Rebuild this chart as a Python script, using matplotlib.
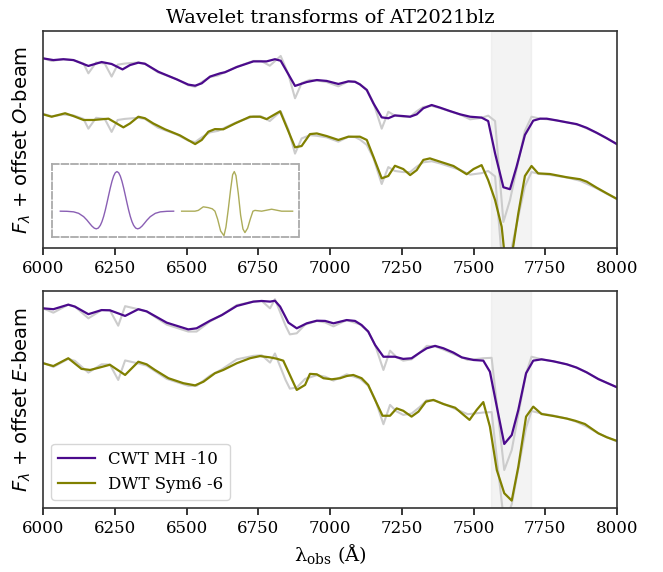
import matplotlib
matplotlib.use('Agg')
import matplotlib.pyplot as plt
import numpy as np

plt.rcParams['font.family'] = 'DejaVu Serif'
plt.rcParams['mathtext.fontset'] = 'dejavuserif'

PURPLE = '#4b0a8c'
OLIVE = '#808000'
RAW = '#cccccc'

# ---- O-beam (top panel), flux + offset in arbitrary units ----
wl_raw_O = [6000, 6030, 6071, 6106, 6141, 6158, 6185, 6215, 6239, 6260,
            6285, 6332, 6355, 6400, 6466, 6506, 6530, 6553, 6582, 6610,
            6634, 6675, 6733, 6760, 6790, 6828, 6855, 6878, 6901, 6930,
            6954, 6988, 7029, 7064, 7087, 7104, 7128, 7151, 7180, 7203,
            7226, 7255, 7279, 7302, 7325, 7354, 7383, 7418, 7453, 7488,
            7528, 7551, 7575, 7604, 7627, 7656, 7679, 7702, 7732, 7766,
            7825, 7871, 7929, 7964, 8000]
f_raw_O = [8.74, 8.62, 8.70, 8.66, 8.50, 8.05, 8.55, 8.50, 7.90, 8.45,
           8.50, 8.55, 8.50, 8.10, 7.78, 7.50, 7.43, 7.65, 7.88, 7.95,
           8.10, 8.35, 8.62, 8.62, 8.40, 8.85, 8.00, 6.90, 7.60, 7.75,
           7.72, 7.65, 7.45, 7.68, 7.66, 7.55, 7.30, 6.70, 5.50, 6.28,
           6.10, 6.05, 6.05, 6.30, 6.50, 6.55, 6.45, 6.30, 6.15, 5.93,
           6.00, 6.10, 5.85, 1.20, 2.21, 4.00, 5.40, 6.05, 5.96, 5.92,
           5.80, 5.65, 5.30, 5.05, 4.80]
raw_offset_O = 2.55

wl_cwt_O = [6000, 6036, 6071, 6106, 6158, 6204, 6239, 6277, 6303, 6332,
            6355, 6402, 6466, 6506, 6530, 6553, 6582, 6617, 6634, 6675,
            6733, 6779, 6808, 6828, 6878, 6919, 6954, 6988, 7029, 7064,
            7087, 7104, 7128, 7151, 7180, 7203, 7226, 7255, 7279, 7302,
            7325, 7354, 7383, 7418, 7453, 7488, 7528, 7551, 7575, 7604,
            7627, 7650, 7679, 7708, 7732, 7755, 7790, 7825, 7859, 7894,
            7929, 7964, 8000]
f_cwt_O = [8.74, 8.66, 8.70, 8.66, 8.39, 8.57, 8.48, 8.23, 8.43, 8.54,
           8.49, 8.12, 7.77, 7.53, 7.48, 7.59, 7.90, 8.05, 8.10, 8.34,
           8.60, 8.60, 8.70, 8.63, 7.47, 7.65, 7.74, 7.70, 7.56, 7.68,
           7.66, 7.54, 7.28, 6.67, 6.02, 5.98, 6.11, 6.08, 6.05, 6.16,
           6.44, 6.59, 6.47, 6.31, 6.16, 6.05, 6.01, 5.85, 4.36, 2.80,
           2.71, 3.75, 5.21, 5.87, 5.96, 5.96, 5.88, 5.79, 5.71, 5.54,
           5.31, 5.06, 4.78]

wl_dwt_O = [6000, 6030, 6077, 6106, 6141, 6176, 6228, 6280, 6303, 6332,
            6355, 6384, 6425, 6477, 6530, 6553, 6576, 6599, 6628, 6669,
            6721, 6756, 6779, 6826, 6878, 6901, 6930, 6954, 6988, 7029,
            7064, 7104, 7128, 7151, 7180, 7203, 7226, 7255, 7279, 7302,
            7325, 7348, 7383, 7430, 7476, 7500, 7528, 7551, 7575, 7598,
            7612, 7628, 7656, 7679, 7702, 7725, 7766, 7825, 7871, 7894,
            7929, 7964, 8000]
f_dwt_O = [6.16, 6.05, 6.21, 6.08, 5.90, 5.90, 5.96, 5.56, 5.74, 6.05,
           5.98, 5.74, 5.47, 5.19, 4.79, 4.98, 5.36, 5.48, 5.47, 5.74,
           6.05, 6.05, 5.94, 6.30, 4.64, 4.70, 5.25, 5.28, 5.16, 4.98,
           5.13, 5.13, 4.98, 4.21, 3.21, 3.32, 3.79, 3.64, 3.36, 3.59,
           4.06, 4.13, 3.98, 3.78, 3.40, 3.64, 3.82, 3.13, 2.21, 0.98,
           -0.80, -0.80, 1.60, 3.32, 3.78, 3.44, 3.41, 3.26, 3.17, 3.06,
           2.78, 2.52, 2.26]

# ---- E-beam (bottom panel) ----
wl_raw_E = [6000, 6036, 6088, 6111, 6158, 6204, 6233, 6262, 6286, 6332,
            6361, 6431, 6506, 6535, 6582, 6623, 6675, 6733, 6762, 6791,
            6808, 6845, 6860, 6884, 6913, 6954, 6983, 7012, 7058, 7104,
            7133, 7157, 7186, 7209, 7232, 7255, 7284, 7313, 7337, 7366,
            7395, 7430, 7480, 7534, 7563, 7607, 7633, 7656, 7683, 7702,
            7737, 7778, 7825, 7859, 7894, 7935, 7964, 8000]
f_raw_E = [9.20, 9.00, 9.37, 9.28, 8.74, 9.12, 9.11, 8.40, 9.30, 9.16,
           9.06, 8.45, 8.13, 8.13, 8.60, 8.89, 9.35, 9.51, 9.54, 9.20,
           9.62, 8.40, 8.00, 8.05, 8.45, 8.62, 8.55, 8.37, 8.66, 8.46,
           8.13, 7.51, 6.36, 7.25, 6.95, 6.79, 6.85, 7.16, 7.47, 7.45,
           7.30, 7.10, 6.82, 6.90, 6.92, 1.75, 2.67, 4.30, 6.20, 6.97,
           6.85, 6.76, 6.62, 6.47, 6.25, 5.94, 5.77, 5.56]
raw_offset_E = 2.5

wl_cwt_E = [6000, 6036, 6088, 6111, 6158, 6204, 6233, 6286, 6332, 6361,
            6431, 6506, 6535, 6582, 6623, 6675, 6733, 6762, 6791, 6808,
            6826, 6855, 6884, 6919, 6954, 6983, 7012, 7058, 7087, 7110,
            7133, 7157, 7186, 7226, 7255, 7284, 7313, 7337, 7366, 7395,
            7430, 7459, 7500, 7534, 7557, 7581, 7607, 7633, 7656, 7683,
            7708, 7737, 7778, 7825, 7859, 7894, 7935, 7964, 8000]
f_cwt_E = [9.20, 9.16, 9.37, 9.28, 8.93, 9.12, 9.11, 8.85, 9.16, 9.06,
           8.54, 8.23, 8.28, 8.63, 8.89, 9.31, 9.51, 9.54, 9.51, 9.55,
           9.28, 8.54, 8.28, 8.51, 8.63, 8.62, 8.51, 8.66, 8.62, 8.43,
           8.13, 7.51, 6.97, 6.97, 6.87, 6.90, 7.16, 7.36, 7.47, 7.36,
           7.16, 6.94, 6.82, 6.79, 6.28, 4.67, 2.95, 3.36, 4.52, 6.21,
           6.79, 6.85, 6.76, 6.62, 6.47, 6.25, 5.94, 5.77, 5.56]

wl_dwt_E = [6000, 6036, 6088, 6134, 6164, 6199, 6233, 6286, 6332, 6361,
            6390, 6437, 6489, 6530, 6559, 6599, 6628, 6675, 6721, 6756,
            6791, 6814, 6837, 6884, 6913, 6930, 6954, 6977, 7006, 7035,
            7058, 7081, 7110, 7133, 7157, 7183, 7209, 7232, 7255, 7284,
            7308, 7334, 7360, 7395, 7436, 7459, 7486, 7511, 7534, 7557,
            7581, 7607, 7633, 7656, 7683, 7708, 7737, 7778, 7825, 7854,
            7888, 7935, 7964, 8000]
f_dwt_E = [6.67, 6.54, 6.90, 6.41, 6.36, 6.48, 6.60, 6.13, 6.74, 6.62,
           6.36, 5.98, 5.75, 5.65, 5.82, 6.21, 6.36, 6.67, 6.90, 7.00,
           6.94, 6.88, 6.79, 5.44, 5.67, 6.18, 6.16, 5.98, 5.93, 5.98,
           6.08, 6.13, 5.98, 5.67, 4.98, 4.25, 4.25, 4.59, 4.48, 4.21,
           4.44, 4.90, 4.98, 4.79, 4.62, 4.36, 4.06, 4.52, 4.88, 3.75,
           1.75, 0.68, 0.34, 1.90, 4.21, 4.67, 4.33, 4.24, 4.12, 4.02,
           3.87, 3.44, 3.26, 3.09]

# telluric band
band = (7560, 7700)

# ---- wavelet shapes shown in the inset ----
mexh_x = [-170, -150, -130, -115, -100, -90, -82, -75, -68, -62, -56, -50,
          -45, -40, -35, -30, -25, -20, -15, -10, -5, 0,
          5, 10, 15, 20, 25, 30, 35, 40, 45, 50, 56, 62, 68, 75, 82, 90,
          100, 115, 130, 150, 170]
mexh_y = [0.0, -0.003, -0.017, -0.054, -0.138, -0.226, -0.309, -0.378,
          -0.429, -0.446, -0.426, -0.358, -0.263, -0.133, 0.027, 0.210,
          0.401, 0.588, 0.755, 0.887, 0.971, 1.0,
          0.971, 0.887, 0.755, 0.588, 0.401, 0.210, 0.027, -0.133, -0.263,
          -0.358, -0.426, -0.446, -0.429, -0.378, -0.309, -0.226, -0.138,
          -0.054, -0.017, -0.003, 0.0]
sym6_x = [20, 60, 70, 85, 100, 112, 120, 128, 137, 147, 153, 160, 167,
          173, 178, 183, 190, 197, 204, 210, 218, 226, 234, 240, 260, 290,
          320, 353]
sym6_y = [0.0, 0.0, 0.02, 0.11, 0.09, 0.06, 0.0, -0.2, -0.5, -0.62, -0.4,
          0.05, 0.55, 0.92, 1.0, 0.9, 0.45, -0.1, -0.45, -0.54, -0.43, -0.2,
          0.0, 0.02, 0.0, 0.05, 0.0, 0.0]

fig = plt.figure(figsize=(6.63, 5.72), dpi=100)
ax1 = fig.add_axes([0.0649, 0.5664, 0.8658, 0.3794])
ax2 = fig.add_axes([0.0649, 0.1119, 0.8658, 0.3794])


def draw_panel(ax, wl_raw, f_raw, raw_off, wl_c, f_c, wl_d, f_d, beam):
    ax.axvspan(band[0], band[1], color='#d9d9d9', alpha=0.3, lw=1, zorder=0)
    ax.plot(wl_raw, f_raw, color=RAW, lw=1.5, zorder=1)
    ax.plot(wl_raw, np.array(f_raw) - raw_off, color=RAW, lw=1.5, zorder=1)
    ax.plot(wl_c, f_c, color=PURPLE, lw=1.6, label='CWT MH -10', zorder=2)
    ax.plot(wl_d, f_d, color=OLIVE, lw=1.6, label='DWT Sym6 -6', zorder=2)
    ax.set_xlim(6000, 8000)
    ax.set_ylim(0, 10)
    ax.set_yticks([])
    ax.set_xticks([6000, 6250, 6500, 6750, 7000, 7250, 7500, 7750, 8000])
    ax.set_ylabel(r'$F_\lambda$ + offset $' + beam + '$-beam',
                  family='DejaVu Sans', math_fontfamily='dejavusans',
                  fontsize=14, labelpad=7)
    ax.tick_params(labelsize=12, length=5, width=1.1)
    for s in ax.spines.values():
        s.set_linewidth(1.2)
        s.set_color('#333333')


draw_panel(ax1, wl_raw_O, f_raw_O, raw_offset_O, wl_cwt_O, f_cwt_O,
           wl_dwt_O, f_dwt_O, 'O')
draw_panel(ax2, wl_raw_E, f_raw_E, raw_offset_E, wl_cwt_E, f_cwt_E,
           wl_dwt_E, f_dwt_E, 'E')

ax1.set_title('Wavelet transforms of AT2021blz', fontsize=14)
ax2.set_xlabel(r'λ$_{\rm obs}$ (Å)', fontsize=14)
ax2.legend(loc='lower left', fontsize=12, handlelength=2.2)

# inset with the wavelet shapes
axi = fig.add_axes([0.0784, 0.5851, 0.3725, 0.1281])
axi.set_facecolor('none')
axi.plot(65 + np.array(mexh_x) / 3, mexh_y, color=PURPLE, alpha=0.65, lw=1)
axi.plot(123 + np.array(sym6_x) / 3, sym6_y, color=OLIVE, alpha=0.65, lw=1)
axi.set_xlim(0, 247)
axi.set_ylim(-0.66, 1.19)
axi.set_xticks([])
axi.set_yticks([])
for s in axi.spines.values():
    s.set_linestyle('--')
    s.set_color('#aaaaaa')
    s.set_linewidth(1.3)

fig.savefig('out.png', dpi=100)
